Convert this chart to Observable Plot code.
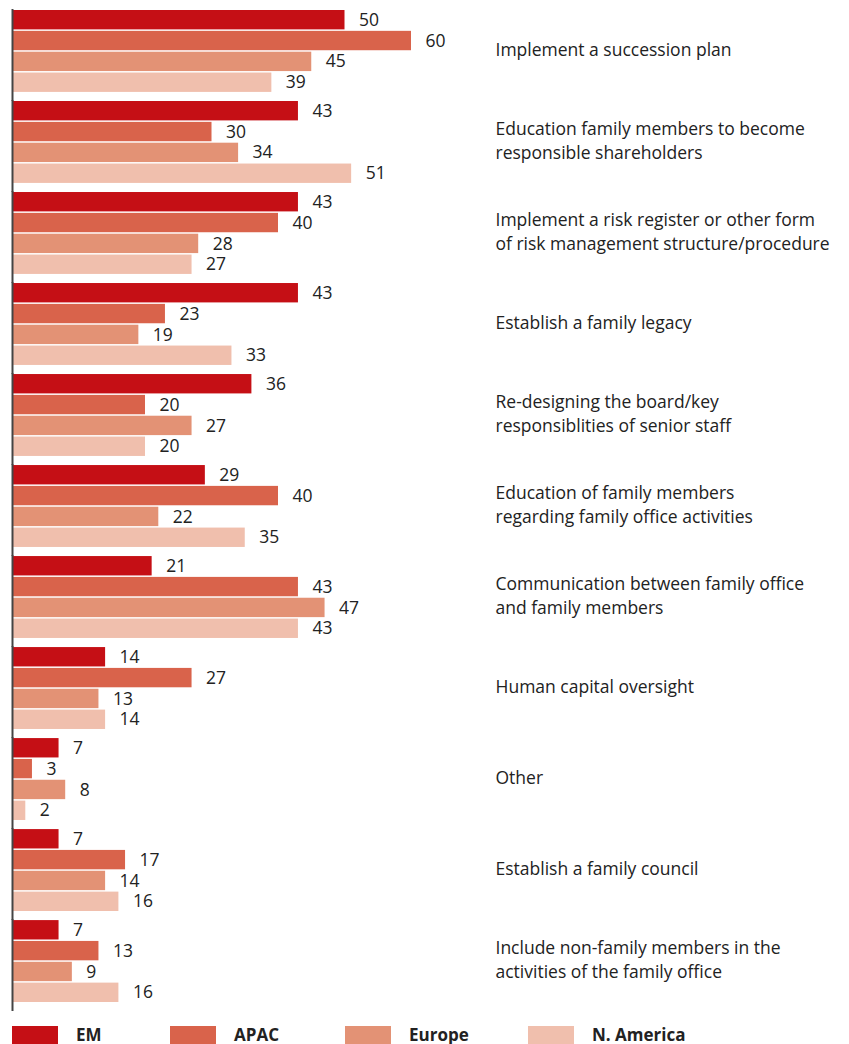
<!DOCTYPE html>
<html>
<head>
<meta charset="utf-8">
<script src="https://cdn.jsdelivr.net/npm/d3@7"></script>
<script src="https://cdn.jsdelivr.net/npm/@observablehq/plot@0.6"></script>
<style>
  body { margin: 0; background: #fff; font-family: "Open Sans", sans-serif; }
  #legend { display: flex; margin-top: 11px; padding-left: 12px; font-size: 17px; font-weight: bold; color: #222; }
  .item { display: flex; align-items: center; }
  .sw { width: 46px; height: 18px; margin-right: 18px; }
</style>
</head>
<body>
<div id="chart"></div>
<div id="legend"></div>
<script>
const categories = [
  "Implement a succession plan",
  "Education family members to become\nresponsible shareholders",
  "Implement a risk register or other form\nof risk management structure/procedure",
  "Establish a family legacy",
  "Re-designing the board/key\nresponsiblities of senior staff",
  "Education of family members\nregarding family office activities",
  "Communication between family office\nand family members",
  "Human capital oversight",
  "Other",
  "Establish a family council",
  "Include non-family members in the\nactivities of the family office"
];
const series = ["EM", "APAC", "Europe", "N. America"];
const colors = ["#c50f15", "#d9634b", "#e39275", "#f0bfad"];
const emValues     = [50, 43, 43, 43, 36, 29, 21, 14, 7, 7, 7];
const apacValues   = [60, 30, 40, 23, 20, 40, 43, 27, 3, 17, 13];
const europeValues = [45, 34, 28, 19, 27, 22, 47, 13, 8, 14, 9];
const naValues     = [39, 51, 27, 33, 20, 35, 43, 14, 2, 16, 16];
const legendWidths = [158, 175, 183, 200];

const seriesValues = [emValues, apacValues, europeValues, naValues];
const data = [];
categories.forEach((c, i) => {
  series.forEach((s, j) => data.push({category: c, series: s, value: seriesValues[j][i]}));
});

const chart = Plot.plot({
  width: 849,
  height: 1012,
  marginTop: 10,
  marginBottom: 10,
  marginLeft: 12,
  marginRight: 438,
  style: {fontFamily: "Open Sans, sans-serif", fontSize: "17.5px", color: "#222", background: "#fff", overflow: "visible"},
  x: {domain: [0, 60], axis: null},
  y: {domain: series, paddingInner: 0.07, paddingOuter: 0, round: false, axis: null},
  fy: {domain: categories, paddingInner: 0.1, paddingOuter: 0, round: false, label: null},
  color: {domain: series, range: colors},
  marks: [
    Plot.barX(data, {x: "value", y: "series", fy: "category", fill: "series", insetLeft: 1}),
    Plot.text(data, {x: "value", y: "series", fy: "category", text: d => String(d.value), textAnchor: "start", dx: 14, fill: "#222", fontSize: 17.5}),
    Plot.ruleX([0], {stroke: "#444", strokeWidth: 2, insetTop: -1, insetBottom: -9}),
    Plot.axisFy({anchor: "right", tickSize: 0, tickPadding: 84, dy: -3, textAnchor: "start", fontSize: 17.5, lineHeight: 1.37, fill: "#222", label: null})
  ]
});
document.getElementById("chart").appendChild(chart);

const legend = document.getElementById("legend");
series.forEach((s, i) => {
  const item = document.createElement("div");
  item.className = "item";
  item.style.width = legendWidths[i] + "px";
  const sw = document.createElement("div");
  sw.className = "sw";
  sw.style.background = colors[i];
  const lb = document.createElement("span");
  lb.textContent = s;
  item.appendChild(sw);
  item.appendChild(lb);
  legend.appendChild(item);
});
</script>
</body>
</html>
